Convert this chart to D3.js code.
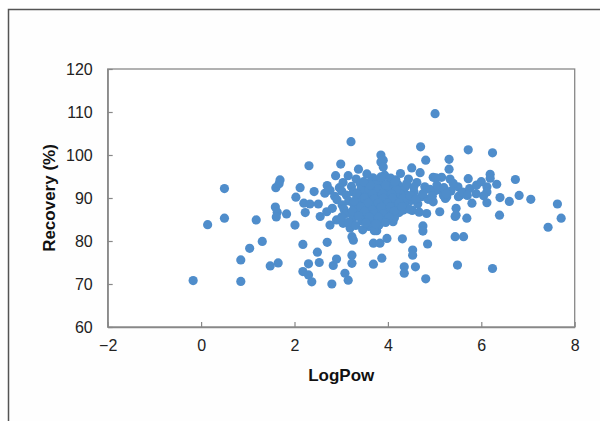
<!DOCTYPE html>
<html><head><meta charset="utf-8">
<script src="https://cdn.jsdelivr.net/npm/d3@7"></script>
<style>html,body{margin:0;padding:0;background:#fff;}svg{display:block;}</style>
</head><body>
<svg id="c" width="600" height="421"></svg>
<script>
const xTicks = [-2, 0, 2, 4, 6, 8];
const yTicks = [60, 70, 80, 90, 100, 110, 120];
const xLabel = "LogPow";
const yLabel = "Recovery (%)";

// Sparse / outlying points [LogPow, Recovery]
const sparsePoints = [
[-0.17,70.8],[0.14,83.8],[0.50,92.2],[0.50,85.3],[0.85,75.6],[0.85,70.6],[1.04,78.3],[1.18,84.9],[1.31,79.9],[1.48,74.2],[1.65,74.9],[1.60,92.4],[1.67,93.3],[1.69,94.2],[1.59,87.9],[1.63,86.7],[1.61,85.6],[1.83,86.3],
[3.21,103.1],[3.85,100.0],[3.85,98.4],[2.31,97.5],[2.99,97.9],[3.37,96.7],[2.88,95.2],[3.15,95.2],[2.70,92.9],[2.76,91.8],[2.12,92.4],[2.42,91.5],[2.03,90.2],[2.65,91.1],[2.20,88.8],[2.33,88.6],[2.51,88.6],[2.23,86.6],[2.55,85.7],[2.69,86.8],[2.01,83.7],[2.76,83.7],[2.90,84.9],[3.04,84.1],[3.19,83.0],[3.23,81.0],[3.26,80.2],[2.18,79.2],[2.70,79.7],[2.49,77.4],[2.53,75.0],[2.30,74.7],[2.83,74.3],[2.90,75.8],[3.23,76.7],[3.23,74.8],[2.18,72.9],[2.30,72.1],[2.37,70.5],[2.80,70.0],[3.08,72.5],[3.15,70.9],[3.76,82.4],[3.69,79.5],[3.83,79.5],[3.87,76.0],[3.98,80.6],[3.69,74.6],[4.31,80.5],[4.53,77.9],[4.53,76.7],[4.85,79.3],[4.35,74.0],[4.35,72.5],[4.59,74.0],[4.81,71.2],[4.75,83.5],[4.75,82.3],[4.11,84.5],
[5.01,109.6],[4.70,101.9],[5.72,101.2],[4.81,98.8],[5.31,99.0],[5.31,96.7],[5.72,94.5],[4.51,97.0],[4.69,95.9],[4.97,94.8],[5.15,94.8],[5.33,94.4],[4.17,94.2],[3.90,98.8],[3.90,97.2],[5.69,85.3],[5.44,85.7],[5.51,90.3],[5.26,90.3],[5.44,81.0],[5.62,81.0],[5.49,74.4],[6.24,100.5],[6.73,94.3],[6.19,95.5],[6.19,94.6],[6.33,93.2],[6.12,92.6],[6.12,91.4],[6.05,90.5],[5.89,91.0],[5.80,88.8],[6.12,88.9],[6.40,90.1],[6.60,89.2],[6.81,90.6],[7.06,89.7],[7.63,88.6],[7.71,85.3],[7.43,83.2],[6.39,86.0],[5.55,90.7],[5.46,87.6],[5.46,86.0],[5.23,89.9],[5.10,91.9],[5.03,94.7],[4.83,86.4],[4.97,89.1],[6.24,73.6],[3.98,87.2],[4.33,87.2],[5.11,86.8],[4.52,87.1],[4.67,86.7]
];

// Dense core cluster points [LogPow, Recovery]
const corePoints = [
[3.55,95.6],[3.93,95.3],[4.27,95.7],
[3.32,94.4],[3.68,94.7],[3.86,94.3],[4.06,94.6],[4.44,94.4],
[3.04,93.6],[3.41,93.3],[3.62,93.7],[3.79,93.4],[4.02,93.5],[4.21,93.2],[4.62,93.6],
[2.96,92.4],[3.22,92.7],[3.48,92.4],[3.71,92.6],[3.92,92.3],[4.11,92.7],[4.36,92.4],[4.79,92.6],
[3.01,91.6],[3.26,91.4],[3.44,91.7],[3.66,91.3],[3.86,91.6],[4.04,91.3],[4.31,91.7],[4.56,91.4],[5.00,91.6],
[2.86,90.4],[3.11,90.7],[3.34,90.4],[3.56,90.6],[3.74,90.3],[3.96,90.7],[4.16,90.4],[4.41,90.6],[4.72,90.3],[5.19,90.6],
[2.91,89.6],[3.16,89.3],[3.39,89.7],[3.61,89.4],[3.81,89.6],[4.01,89.3],[4.21,89.6],[4.49,89.4],[4.86,89.7],
[3.02,88.4],[3.26,88.7],[3.49,88.3],[3.71,88.6],[3.89,88.4],[4.11,88.7],[4.36,88.4],[4.64,88.6],
[2.81,87.6],[3.06,87.4],[3.31,87.7],[3.54,87.3],[3.76,87.6],[3.94,87.4],[4.19,87.6],[4.46,87.4],
[3.11,86.4],[3.36,86.7],[3.59,86.4],[3.79,86.6],[4.01,86.3],[4.24,86.6],
[3.01,85.6],[3.26,85.4],[3.51,85.7],[3.69,85.3],[3.91,85.6],[4.14,85.4],
[3.16,84.4],[3.44,84.7],[3.66,84.4],[3.86,84.6],
[3.31,83.6],[3.59,83.4],[3.81,83.7],
[3.46,82.6],[3.71,82.4],
[3.52,91.0],[3.83,90.0],[3.63,88.0],[3.45,86.0],[4.08,89.0],[3.72,93.0],[3.38,88.2],[4.26,91.0],[3.95,86.9],[3.58,84.9],
[3.42,92.0],[3.60,92.1],[3.80,92.0],[3.99,91.9],[4.18,92.0],[3.33,91.0],[3.68,90.9],[3.88,91.0],[4.08,90.9],[3.50,89.9],
[3.70,89.8],[3.91,89.9],[4.10,89.9],[4.33,90.0],[3.28,89.2],[3.57,88.9],[3.79,88.9],[3.99,88.8],[4.24,88.9],[3.42,87.9],
[3.66,87.2],[3.86,87.9],[4.05,87.9],[4.30,88.0],[3.24,87.0],[3.50,86.9],[3.70,86.2],[3.90,86.2],[4.13,86.9],[3.37,85.8],
[3.60,85.6],[3.80,85.5],[4.03,85.5],[3.53,84.2],[3.74,84.0],[3.95,84.3],[3.62,93.0],[3.95,93.0],[4.15,93.8],[3.48,93.8],
[3.85,94.9],[4.40,93.3],[4.55,92.5],[4.48,90.5],[4.60,89.8]
];

// Arm extending to the right
const armPoints = [
[4.90,92.0],[5.05,93.0],[5.20,92.4],[5.35,91.6],[5.50,92.6],[5.60,91.4],[5.75,92.2],[5.90,93.0],[6.00,93.8],[5.40,93.4],[4.75,91.0],[4.95,90.4],[5.25,91.0],[5.70,90.6]
];

const allPoints = sparsePoints.concat(corePoints, armPoints);

const svg = d3.select("#c");
// outer frame
svg.append("rect").attr("x",8.5).attr("y",9.5).attr("width",620).attr("height",440)
  .attr("fill","#fefefe").attr("stroke","#555").attr("stroke-width",1.5);

const L = 107.7, R = 574.7, T = 69, B = 327;
const x = d3.scaleLinear().domain([-2, 8]).range([L, R]);
const y = d3.scaleLinear().domain([60, 120]).range([B, T]);

// plot area box
svg.append("rect").attr("x",L).attr("y",T).attr("width",R-L).attr("height",B-T)
  .attr("fill","#fff").attr("stroke","#888").attr("stroke-width",1.3);

const fmt = d => d < 0 ? "\u2212" + Math.abs(d) : String(d);

const xAxis = svg.append("g").attr("transform",`translate(0,${B})`)
  .call(d3.axisBottom(x).tickValues(xTicks).tickSizeInner(-5).tickSizeOuter(0).tickPadding(13).tickFormat(fmt));
const yAxis = svg.append("g").attr("transform",`translate(${L},0)`)
  .call(d3.axisLeft(y).tickValues(yTicks).tickSizeInner(-5).tickSizeOuter(0).tickPadding(15).tickFormat(fmt));
[xAxis,yAxis].forEach(a=>{
  a.select(".domain").attr("stroke","#888").attr("stroke-width",1.3);
  a.selectAll(".tick line").attr("stroke","#888").attr("stroke-width",1.2);
  a.selectAll(".tick text").attr("fill","#222").style("font-family","'Liberation Sans', Arial, sans-serif").style("font-size","16px");
});

svg.append("g").selectAll("circle").data(allPoints).join("circle")
  .attr("cx", d => x(d[0])).attr("cy", d => y(d[1])).attr("r", 4.6)
  .attr("fill", "#4f8dcb");

svg.append("text").attr("x",(L+R)/2).attr("y",381).attr("text-anchor","middle")
  .style("font-family","'Liberation Sans', Arial, sans-serif").style("font-size","17px").style("font-weight","bold")
  .attr("fill","#111").text(xLabel);
svg.append("text").attr("transform",`translate(55,${(T+B)/2}) rotate(-90)`).attr("text-anchor","middle")
  .style("font-family","'Liberation Sans', Arial, sans-serif").style("font-size","17px").style("font-weight","bold")
  .attr("fill","#111").text(yLabel);
</script>
</body></html>
